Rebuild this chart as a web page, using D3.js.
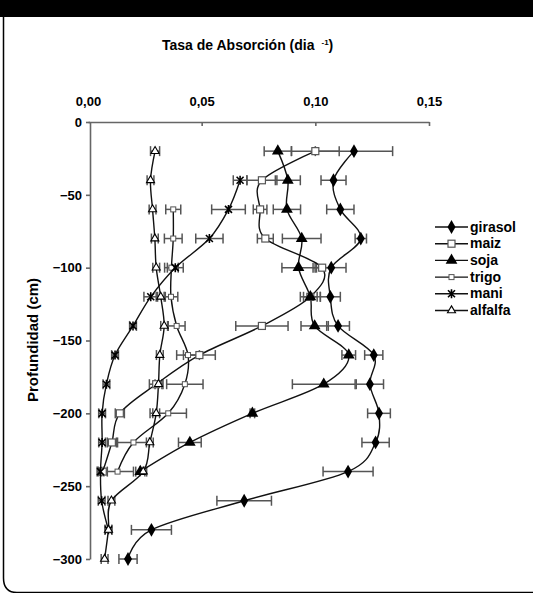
<!DOCTYPE html>
<html>
<head>
<meta charset="utf-8">
<script src="https://cdn.jsdelivr.net/npm/d3@7"></script>
<style>
  html, body { margin: 0; padding: 0; background: #fff; }
  svg { display: block; font-family: "Liberation Sans", Arial, sans-serif; }
</style>
</head>
<body>
<svg id="chart" width="533" height="593"></svg>
<script>
// Soil depths (cm) of each sampling layer
const depths = [-20, -40, -60, -80, -100, -120, -140, -160, -180, -200, -220, -240, -260, -280, -300];

// Absorption rate (day^-1) per crop and its standard error; null = no sample
const girasol    = [0.117, 0.108, 0.111, 0.120, 0.107, 0.1066, 0.110, 0.1257, 0.124, 0.128, 0.1265, 0.1144, 0.0687, 0.0279, 0.0176];
const girasolErr = [0.017, 0.0055, 0.006, 0.0025, 0.0065, 0.0044, 0.005, 0.004, 0.006, 0.005, 0.006, 0.011, 0.012, 0.0088, 0.004];

const maiz    = [0.100, 0.0765, 0.0757, 0.078, 0.103, 0.0978, 0.0765, 0.049, 0.030, 0.014, 0.0105, 0.0065, null, null, null];
const maizErr = [0.0105, 0.0066, 0.003, 0.0035, 0.004, 0.003, 0.0115, 0.007, 0.003, 0.002, 0.002, 0.002, null, null, null];

const soja    = [0.0835, 0.0879, 0.0875, 0.094, 0.0926, 0.0978, 0.0997, 0.1147, 0.1037, 0.0723, 0.0448, 0.023, null, null, null];
const sojaErr = [0.006, 0.0055, 0.006, 0.0085, 0.0073, 0.0044, 0.006, 0.003, 0.0138, 0.001, 0.005, 0.002, null, null, null];

const trigo    = [null, null, 0.0375, 0.0375, 0.0367, 0.0365, 0.039, 0.044, 0.0426, 0.0353, 0.020, 0.013, null, null, null];
const trigoErr = [null, null, 0.0033, 0.0039, 0.003, 0.003, 0.0037, 0.005, 0.008, 0.008, 0.007, 0.007, null, null, null];

const mani    = [null, 0.0669, 0.0618, 0.0534, 0.0384, 0.0276, 0.0198, 0.0119, 0.0081, 0.0062, 0.0062, 0.0055, 0.006, 0.009, null];
const maniErr = [null, 0.003, 0.0074, 0.006, 0.0035, 0.003, 0.0015, 0.0015, 0.0015, 0.0015, 0.0015, 0.0015, 0.0015, 0.0015, null];

const alfalfa    = [0.0295, 0.0275, 0.0284, 0.0294, 0.030, 0.032, 0.0335, 0.0316, 0.031, 0.030, 0.0272, 0.0243, 0.0103, 0.009, 0.0073];
const alfalfaErr = [0.002, 0.0015, 0.0015, 0.0015, 0.0015, 0.002, 0.0015, 0.0015, 0.0015, 0.0015, 0.0015, 0.0015, 0.0015, 0.0015, 0.0015];

const xTicks = [0, 0.05, 0.10, 0.15];
const yTicks = [0, -50, -100, -150, -200, -250, -300];

const seriesNames = ["girasol", "maiz", "soja", "trigo", "mani", "alfalfa"];
const seriesValues = [girasol, maiz, soja, trigo, mani, alfalfa];
const seriesErrors = [girasolErr, maizErr, sojaErr, trigoErr, maniErr, alfalfaErr];

const series = seriesNames.map((name, i) => ({
  name,
  points: depths.map((d, j) => ({ depth: d, value: seriesValues[i][j], err: seriesErrors[i][j] }))
                .filter(p => p.value != null)
}));

const svg = d3.select("#chart");

// Page frame: black band on top, left edge with a rounded bottom corner
svg.append("rect").attr("x", 0).attr("y", 0).attr("width", 533).attr("height", 17).attr("fill", "#000");
svg.append("path")
  .attr("d", "M3.5,16 V578 Q3.5,592.5 17,592.5 H533")
  .attr("fill", "none").attr("stroke", "#000").attr("stroke-width", 1.5);

const x = d3.scaleLinear().domain([0, 0.15]).range([88, 429]);
const y = d3.scaleLinear().domain([0, -300]).range([122, 559]);

const axisColor = "#666";
const fmt = v => d3.format(".2f")(v).replace(".", ",");

// Top value axis
const gx = svg.append("g").attr("transform", `translate(0,${y(0)})`)
  .call(d3.axisTop(x).tickValues(xTicks).tickFormat(fmt).tickSizeInner(-4).tickSizeOuter(0).tickPadding(16));
// Left depth axis
const gy = svg.append("g").attr("transform", `translate(${x(0) + 2},0)`)
  .call(d3.axisLeft(y).tickValues(yTicks).tickFormat(d3.format("d")).tickSizeInner(4).tickSizeOuter(0).tickPadding(4));

[gx, gy].forEach(g => {
  g.select(".domain").attr("stroke", axisColor).attr("stroke-width", 1.6);
  g.selectAll(".tick line").attr("stroke", axisColor).attr("stroke-width", 1.6);
  g.selectAll(".tick text").attr("fill", "#000").attr("font-size", 13).attr("font-weight", "bold")
    .attr("font-family", "'Liberation Sans', Arial, sans-serif");
});
gx.selectAll(".tick").filter(d => d === 0).select("line").remove();

// Titles
const title = svg.append("text").attr("x", 162).attr("y", 50)
  .attr("font-size", 14).attr("font-weight", "bold").attr("fill", "#000");
title.append("tspan").text("Tasa de Absorción (dia");
title.append("tspan").attr("dx", 7).attr("dy", -5).attr("font-size", 8).text("-1");
title.append("tspan").attr("dy", 5).text(")");

svg.append("text")
  .attr("transform", `translate(38,${340}) rotate(-90)`)
  .attr("text-anchor", "middle")
  .attr("font-size", 15).attr("font-weight", "bold").attr("fill", "#000")
  .text("Profundidad (cm)");

// Marker drawing per series
function drawMarker(sel, name) {
  switch (name) {
    case "girasol":
      sel.append("path").attr("d", d3.symbol(d3.symbolDiamond, 55)()).attr("fill", "#000");
      break;
    case "maiz":
      sel.append("rect").attr("x", -3.5).attr("y", -3.5).attr("width", 7).attr("height", 7)
        .attr("fill", "#fff").attr("stroke", "#555").attr("stroke-width", 1.2);
      break;
    case "soja":
      sel.append("path").attr("d", d3.symbol(d3.symbolTriangle, 60)()).attr("fill", "#000");
      break;
    case "trigo":
      sel.append("rect").attr("x", -2.5).attr("y", -2.5).attr("width", 5).attr("height", 5)
        .attr("fill", "#fff").attr("stroke", "#555").attr("stroke-width", 1);
      break;
    case "mani":
      sel.append("path").attr("d", "M-3.5,-3.5L3.5,3.5M-3.5,3.5L3.5,-3.5M0,-4.5V4.5")
        .attr("stroke", "#000").attr("stroke-width", 1.6).attr("fill", "none");
      break;
    case "alfalfa":
      sel.append("path").attr("d", d3.symbol(d3.symbolTriangle, 28)())
        .attr("fill", "#fff").attr("stroke", "#000").attr("stroke-width", 1.1);
      break;
  }
}

const line = d3.line()
  .x(p => x(p.value))
  .y(p => y(p.depth))
  .curve(d3.curveCardinal.tension(0));

const plot = svg.append("g");

// Error bars
series.forEach(s => {
  const g = plot.append("g").attr("stroke", "#555").attr("stroke-width", 1.5).attr("fill", "none");
  s.points.filter(p => p.err != null).forEach(p => {
    const x0 = x(p.value - p.err), x1 = x(p.value + p.err), yy = y(p.depth);
    g.append("line").attr("x1", x0).attr("x2", x1).attr("y1", yy).attr("y2", yy);
    g.append("line").attr("x1", x0).attr("x2", x0).attr("y1", yy - 5).attr("y2", yy + 5);
    g.append("line").attr("x1", x1).attr("x2", x1).attr("y1", yy - 5).attr("y2", yy + 5);
  });
});

// Profiles
series.forEach(s => {
  plot.append("path").datum(s.points).attr("d", line)
    .attr("fill", "none").attr("stroke", "#111").attr("stroke-width", 1.4);
});

// Markers
series.forEach(s => {
  plot.append("g").selectAll("g").data(s.points).join("g")
    .attr("transform", p => `translate(${x(p.value)},${y(p.depth)})`)
    .each(function() { drawMarker(d3.select(this), s.name); });
});

// Legend
const legend = svg.append("g");
seriesNames.forEach((name, i) => {
  const yy = 227 + i * 16.7;
  const g = legend.append("g").attr("transform", `translate(0,${yy})`);
  g.append("line").attr("x1", 435).attr("x2", 468).attr("y1", 0).attr("y2", 0)
    .attr("stroke", "#111").attr("stroke-width", 1.4);
  drawMarker(g.append("g").attr("transform", "translate(451.5,0)"), name);
  g.append("text").attr("x", 470).attr("y", 4.5).attr("font-size", 14).attr("font-weight", "bold")
    .attr("fill", "#000").text(name);
});
</script>
</body>
</html>
